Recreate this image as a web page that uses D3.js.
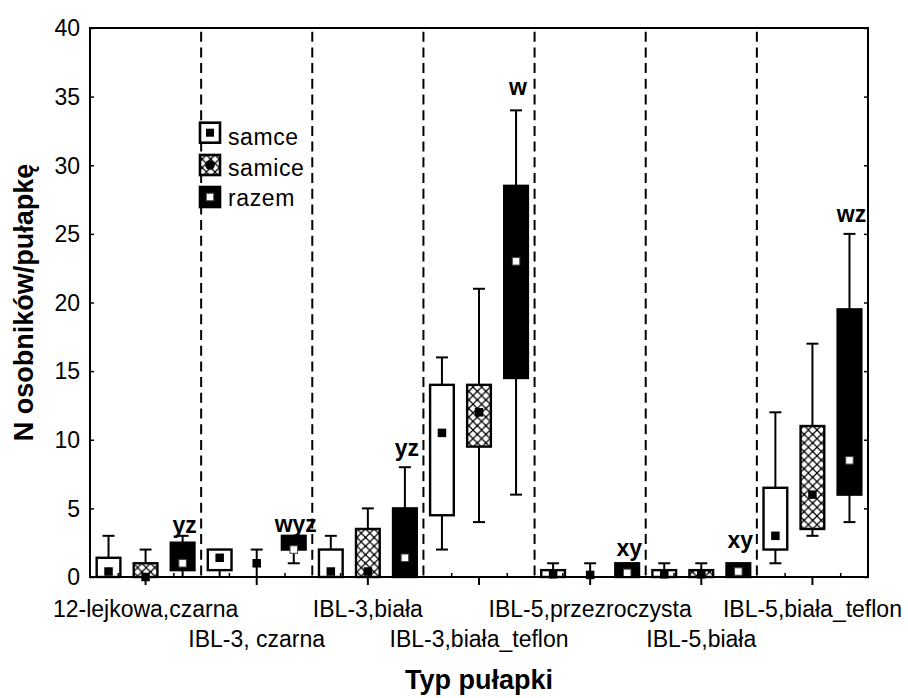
<!DOCTYPE html>
<html>
<head>
<meta charset="utf-8">
<script src="https://cdn.jsdelivr.net/npm/d3@7"></script>
<style>
  html, body { margin: 0; padding: 0; background: #fff; }
  svg { display: block; }
</style>
</head>
<body>
<script>
// ---- data ----
const categories = ["12-lejkowa,czarna", "IBL-3, czarna", "IBL-3,biała", "IBL-3,biała_teflon",
                    "IBL-5,przezroczysta", "IBL-5,biała", "IBL-5,biała_teflon"];
const series = ["samce", "samice", "razem"];
// each row: [min, q1, median, q3, max]
const samce = [
  [0, 0, 0.4, 1.4, 3],
  [0, 0.5, 1.4, 2, 2],
  [0, 0, 0.4, 2, 3],
  [2, 4.5, 10.5, 14, 16],
  [0, 0, 0.2, 0.5, 1],
  [0, 0, 0.2, 0.5, 1],
  [1, 2, 3, 6.5, 12]
];
const samice = [
  [0, 0, 0, 1, 2],
  [0, 1, 1, 1, 2],
  [0, 0, 0.4, 3.5, 5],
  [4, 9.5, 12, 14, 21],
  [0, 0, 0.15, 0, 1],
  [0, 0, 0.2, 0.5, 1],
  [3, 3.5, 6, 11, 17]
];
const razem = [
  [0, 0.5, 1, 2.5, 3],
  [1, 2, 2, 3, 3],
  [0, 0, 1.4, 5, 8],
  [6, 14.5, 23, 28.5, 34],
  [0, 0, 0.3, 1, 1],
  [0, 0, 0.4, 1, 1],
  [4, 6, 8.5, 19.5, 25]
];
const groupLabels = ["yz", "wyz", "yz", "w", "xy", "xy", "wz"];
const groupLabelValues = [3.2, 3.3, 8.8, 35.1, 1.5, 2.1, 25.9];
const yTicks = [0, 5, 10, 15, 20, 25, 30, 35, 40];
const yTitle = "N osobników/pułapkę";
const xTitle = "Typ pułapki";

// ---- layout ----
const W = 908, H = 698;
const L = 90, R = 868, T = 28, B = 577;
const FONT = "'Liberation Sans', Arial, Helvetica, sans-serif";

const svg = d3.select("body").append("svg")
  .attr("width", W).attr("height", H)
  .style("font-family", FONT);
svg.append("rect").attr("width", W).attr("height", H).attr("fill", "#fff");

const defs = svg.append("defs");
const P = 8.6;
const pat = defs.append("pattern").attr("id", "hatch")
  .attr("patternUnits", "userSpaceOnUse").attr("width", P).attr("height", P);
pat.append("rect").attr("width", P).attr("height", P).attr("fill", "#fff");
pat.append("path")
  .attr("d", `M-2,-2L${P + 2},${P + 2}M${P + 2},-2L-2,${P + 2}`)
  .attr("stroke", "#000").attr("stroke-width", 1.2);
[[P / 2, P / 2], [0, 0], [P, 0], [0, P], [P, P]].forEach(([cx, cy]) =>
  pat.append("circle").attr("cx", cx).attr("cy", cy).attr("r", 0.9).attr("fill", "#000"));

const y = d3.scaleLinear().domain([0, 40]).range([B, T]);
const x = d3.scaleBand().domain(categories).range([L, R]);
const xs = d3.scaleBand().domain(series).range([0, x.bandwidth()]);
const boxW = xs.bandwidth() * 0.64;
const capW = 12;

// dashed separators
svg.append("g").selectAll("line")
  .data(categories.slice(1))
  .join("line")
  .attr("x1", d => x(d)).attr("x2", d => x(d))
  .attr("y1", T).attr("y2", B)
  .attr("stroke", "#000").attr("stroke-width", 2)
  .attr("stroke-dasharray", "10,5.7").attr("stroke-dashoffset", 12);

// boxes
const dataBySeries = { samce, samice, razem };
const fills = { samce: "#fff", samice: "url(#hatch)", razem: "#000" };

series.forEach(s => {
  const g = svg.append("g");
  dataBySeries[s].forEach((v, i) => {
    const [mn, q1, md, q3, mx] = v;
    const cx = x(categories[i]) + xs(s) + xs.bandwidth() / 2;
    // whiskers
    const wl = [];
    if (mx > q3) wl.push([q3, mx]);
    if (mn < q1) wl.push([mn, q1]);
    wl.forEach(([a, b]) => {
      g.append("line").attr("x1", cx).attr("x2", cx)
        .attr("y1", y(a)).attr("y2", y(b))
        .attr("stroke", "#000").attr("stroke-width", 2);
    });
    if (mx > q3) g.append("line").attr("x1", cx - capW / 2).attr("x2", cx + capW / 2)
      .attr("y1", y(mx)).attr("y2", y(mx)).attr("stroke", "#000").attr("stroke-width", 2);
    if (mn < q1) g.append("line").attr("x1", cx - capW / 2).attr("x2", cx + capW / 2)
      .attr("y1", y(mn)).attr("y2", y(mn)).attr("stroke", "#000").attr("stroke-width", 2);
    // box
    if (q3 > q1) {
      g.append("rect")
        .attr("x", cx - boxW / 2).attr("width", boxW)
        .attr("y", y(q3)).attr("height", y(q1) - y(q3))
        .attr("fill", fills[s]).attr("stroke", "#000").attr("stroke-width", 2.4);
    }
    // median marker
    const ms = s === "razem" ? 7.5 : 8.5;
    g.append("rect")
      .attr("x", cx - ms / 2).attr("y", y(md) - ms / 2)
      .attr("width", ms).attr("height", ms)
      .attr("fill", s === "razem" ? "#fff" : "#000")
      .attr("stroke", s === "razem" ? "#444" : "none")
      .attr("stroke-width", 1);
  });
});

// group significance labels
svg.append("g").selectAll("text")
  .data(groupLabels)
  .join("text")
  .attr("x", (d, i) => x(categories[i]) + xs("razem") + xs.bandwidth() / 2 + 2)
  .attr("y", (d, i) => y(groupLabelValues[i]))
  .attr("text-anchor", "middle")
  .attr("font-size", 23).attr("font-weight", "bold")
  .text(d => d);

// axes
const axL = svg.append("g").attr("transform", `translate(${L},0)`)
  .call(d3.axisLeft(y).tickValues(yTicks).tickSize(-4).tickPadding(10));
axL.select(".domain").remove();
axL.selectAll("line").attr("stroke-width", 1.5);
axL.selectAll("text").attr("font-size", 23).attr("font-family", FONT)
  .attr("fill", "#000").attr("dy", "0.34em");

const axR = svg.append("g").attr("transform", `translate(${R},0)`)
  .call(d3.axisRight(y).tickValues(yTicks).tickSize(-4).tickFormat(""));
axR.select(".domain").remove();
axR.selectAll("line").attr("stroke-width", 1.5);

const axB = svg.append("g").attr("transform", `translate(0,${B})`)
  .call(d3.axisBottom(x).tickSize(8).tickPadding(0));
axB.select(".domain").remove();
axB.selectAll("line").attr("stroke-width", 2);
axB.selectAll("text").attr("font-size", 23).attr("font-family", FONT).attr("fill", "#000")
  .attr("dy", null)
  .attr("y", (d, i) => i % 2 ? 70 : 40);

const xq = d3.scaleLinear().domain([0, categories.length]).range([L, R]);
const minorTicks = d3.range(categories.length).flatMap(i => [i + 0.25, i + 0.75]);
const axM = svg.append("g").attr("transform", `translate(0,${B})`)
  .call(d3.axisTop(xq).tickValues(minorTicks).tickSize(4).tickFormat(""));
axM.select(".domain").remove();
axM.selectAll("line").attr("stroke-width", 1.5);

// frame
svg.append("rect").attr("x", L).attr("y", T).attr("width", R - L).attr("height", B - T)
  .attr("fill", "none").attr("stroke", "#000").attr("stroke-width", 2);

// titles
svg.append("text").attr("x", (L + R) / 2).attr("y", 689)
  .attr("text-anchor", "middle").attr("font-size", 27).attr("font-weight", "bold")
  .text(xTitle);
svg.append("text")
  .attr("transform", `translate(33,${(T + B) / 2}) rotate(-90)`)
  .attr("text-anchor", "middle").attr("font-size", 27).attr("font-weight", "bold")
  .text(yTitle);

// legend
const lg = svg.append("g");
const lgY = [132.7, 165, 197];
const lgText = [145, 176, 206];
series.forEach((s, i) => {
  const cx = 210, cy = lgY[i], sz = 20;
  lg.append("rect").attr("x", cx - sz / 2).attr("y", cy - sz / 2)
    .attr("width", sz).attr("height", sz)
    .attr("fill", fills[s]).attr("stroke", "#000").attr("stroke-width", 2.6);
  if (s === "samice") {
    lg.append("circle").attr("cx", cx).attr("cy", cy).attr("r", 4.8).attr("fill", "#000");
  } else {
    const ms = s === "razem" ? 7.5 : 8;
    lg.append("rect").attr("x", cx - ms / 2).attr("y", cy - ms / 2)
      .attr("width", ms).attr("height", ms)
      .attr("fill", s === "razem" ? "#fff" : "#000")
      .attr("stroke", s === "razem" ? "#444" : "none");
  }
  lg.append("text").attr("x", 228).attr("y", lgText[i])
    .attr("font-size", 23).attr("letter-spacing", 0.6).text(s);
});
</script>
</body>
</html>
